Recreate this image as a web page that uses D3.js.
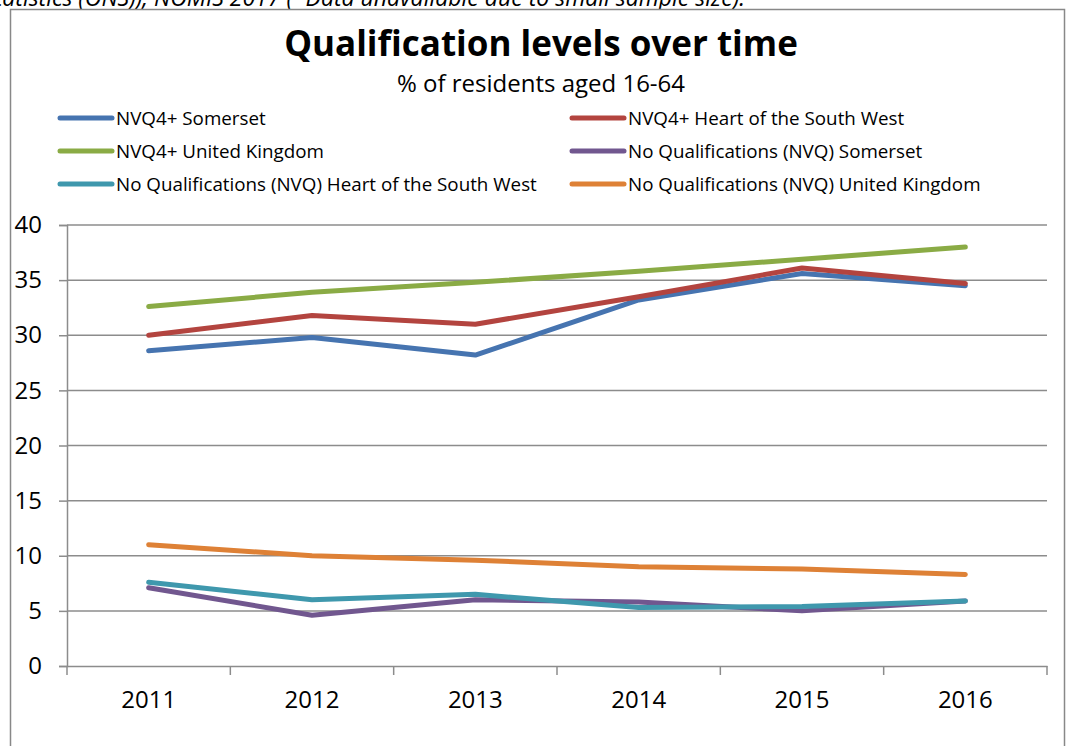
<!DOCTYPE html>
<html><head><meta charset="utf-8">
<script src="https://cdn.jsdelivr.net/npm/d3@7"></script>
<style>body{margin:0;background:#fff}svg{display:block}</style>
</head><body>
<svg id="c" width="1070" height="746"></svg>
<script>
const years = ["2011","2012","2013","2014","2015","2016"];
const seriesNames = ["NVQ4+ Somerset","NVQ4+ Heart of the South West","NVQ4+ United Kingdom","No Qualifications (NVQ) Somerset","No Qualifications (NVQ) Heart of the South West","No Qualifications (NVQ) United Kingdom"];
const nvq4Somerset = [28.6, 29.8, 28.2, 33.2, 35.6, 34.5];
const nvq4HotSW = [30.0, 31.8, 31.0, 33.5, 36.1, 34.7];
const nvq4UK = [32.6, 33.9, 34.8, 35.8, 36.9, 38.0];
const noQualSomerset = [7.1, 4.6, 6.0, 5.8, 5.0, 5.9];
const noQualHotSW = [7.6, 6.0, 6.5, 5.3, 5.4, 5.9];
const noQualUK = [11.0, 10.0, 9.6, 9.0, 8.8, 8.3];
const yTicks = [0,5,10,15,20,25,30,35,40];
const colors = ["#4674b0","#b3443f","#8aab45","#71578f","#3f98ad","#de8136"];
const allSeries = [nvq4Somerset,nvq4HotSW,nvq4UK,noQualSomerset,noQualHotSW,noQualUK];

const svg = d3.select("#c");
const font = "'Open Sans', sans-serif";

// source note, cut off at the top edge as in the original
svg.append("text").attr("x",745).attr("y",6).attr("text-anchor","end").attr("font-family",font).attr("font-style","italic")
  .attr("font-size",23).attr("fill","#000").text("Source: Annual Population Survey (Office for National Statistics (ONS)), NOMIS 2017 (*Data unavailable due to small sample size).");

// chart border
svg.append("rect").attr("x",10.5).attr("y",9.5).attr("width",1054).attr("height",760)
  .attr("fill","#fff").attr("stroke","#888").attr("stroke-width",1.5);

svg.append("text").attr("x",541).attr("y",56).attr("text-anchor","middle").attr("font-family",font)
  .attr("font-weight","bold").attr("font-size",35).text("Qualification levels over time");
svg.append("text").attr("x",541).attr("y",92).attr("text-anchor","middle").attr("font-family",font)
  .attr("font-size",24).text("% of residents aged 16-64");

// legend
const lg = svg.append("g");
seriesNames.forEach((n,i)=>{
  const col = i%2, row = Math.floor(i/2);
  const x0 = col===0 ? 60 : 572, y0 = 118 + row*33;
  lg.append("line").attr("x1",x0).attr("x2",x0+52).attr("y1",y0).attr("y2",y0)
    .attr("stroke",colors[i]).attr("stroke-width",5).attr("stroke-linecap","round");
  lg.append("text").attr("x",x0+56).attr("y",y0+6.5).attr("font-family",font).attr("font-size",18.8).text(n);
});

const L=67, R=1047, T=225, B=666;
const x = d3.scaleBand().domain(years).range([L,R]);
const y = d3.scaleLinear().domain([0,40]).range([B,T]);

// gridlines
svg.append("g").selectAll("line").data(yTicks.filter(d=>d>0)).join("line")
  .attr("x1",L).attr("x2",R).attr("y1",d=>y(d)).attr("y2",d=>y(d))
  .attr("stroke","#8c8c8c").attr("stroke-width",1.5);

const yAxis = svg.append("g").attr("transform",`translate(${L},0)`)
  .call(d3.axisLeft(y).tickValues(yTicks).tickSize(8).tickPadding(17));
yAxis.select(".domain").attr("stroke","#8c8c8c").attr("stroke-width",1.5);
yAxis.selectAll(".tick line").attr("stroke","#8c8c8c").attr("stroke-width",1.5);
yAxis.selectAll("text").attr("font-family",font).attr("font-size",24).attr("fill","#000");

const xAxis = svg.append("g").attr("transform",`translate(0,${B})`)
  .call(d3.axisBottom(x).tickSize(0).tickPadding(25));
xAxis.select(".domain").attr("stroke","#8c8c8c").attr("stroke-width",1.5);
xAxis.selectAll("text").attr("font-family",font).attr("font-size",24).attr("fill","#000");
// category boundary ticks
const bounds = years.map(d=>x(d)).concat([R]);
svg.append("g").selectAll("line").data(bounds).join("line")
  .attr("x1",d=>d).attr("x2",d=>d).attr("y1",B).attr("y2",B+9)
  .attr("stroke","#8c8c8c").attr("stroke-width",1.5);

const line = d3.line().x((d,i)=>x(years[i])+x.bandwidth()/2).y(d=>y(d));
allSeries.forEach((s,i)=>{
  svg.append("path").datum(s).attr("d",line).attr("fill","none").attr("stroke",colors[i])
    .attr("stroke-width",5).attr("stroke-linecap","round").attr("stroke-linejoin","round");
});
</script>
</body></html>
